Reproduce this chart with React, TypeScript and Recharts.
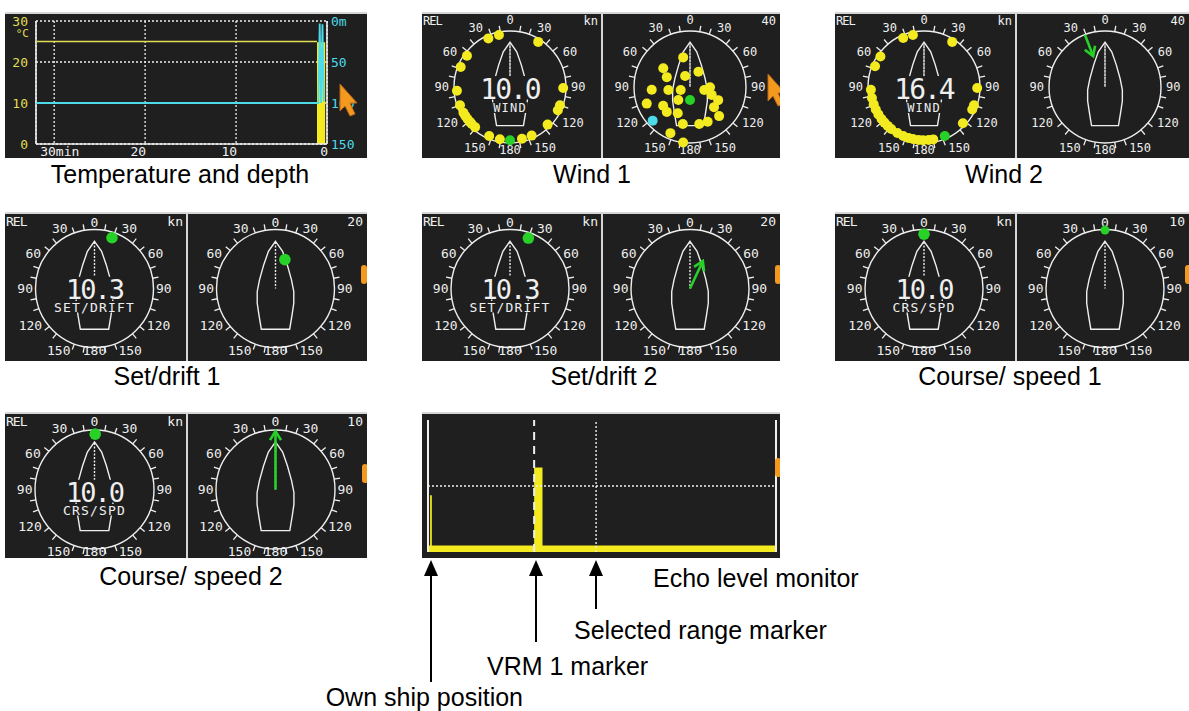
import React from "react";
import {
  Area,
  CartesianGrid,
  ComposedChart,
  Line,
  PolarAngleAxis,
  PolarRadiusAxis,
  Radar,
  RadarChart,
  ReferenceLine,
  XAxis,
  YAxis,
} from "recharts";

const BG = "#1f1f1f";
const INK = "#efefef";
const RULE = "#d6d6d6";
const YEL = "#f3ea1f";
const TEMP_YEL = "#e2dd52";
const GRN = "#27d127";
const CYA = "#4ddbe9";
const ORANGE = "#f39a1e";
const MONO = "'DejaVu Sans Mono', monospace";
const SANS = "'Liberation Sans', Arial, Helvetica, sans-serif";

// dial scale, degrees relative to the bow
const DIAL_TICKS = [0, 10, 20, 30, 40, 50, 60, 70, 80, 90, 100, 110, 120, 130, 140, 150, 160, 170, 180, 190, 200, 210, 220, 230, 240, 250, 260, 270, 280, 290, 300, 310, 320, 330, 340, 350];

// own ship outline (angle, fraction of ring radius)
const HULL_ANGLE = [0, 10.8, 26.6, 60.9, 99.2, 128.9, 148.1, 160.8, 199.2, 211.9, 231.1, 260.8, 299.1, 333.4, 349.2];
const HULL_R = [0.8, 0.641, 0.447, 0.309, 0.314, 0.398, 0.53, 0.731, 0.731, 0.53, 0.398, 0.314, 0.309, 0.447, 0.641];
const KEEL_ANGLE = [0, 0];
const KEEL_R = [0.78, 0];

// wind 1
const W1_HIST_ANGLE = [336, 348, 32, 306, 292, 266, 250, 241, 237, 233, 229, 226, 221, 203, 191, 167, 156, 135, 116, 110, 91];
const W1_HIST_R = [0.95, 0.95, 0.95, 0.95, 0.95, 0.95, 0.95, 0.95, 0.95, 0.95, 0.95, 0.95, 0.95, 0.95, 0.95, 0.95, 0.95, 0.95, 0.95, 0.95, 0.95];
const W1_NOW_ANGLE = [180];
const W1_NOW_R = [0.95];
const W1_SPD_ANGLE = [347, 305, 293, 336, 29, 266, 262, 252, 249, 235, 223, 205, 222, 102, 91, 110, 115, 130, 135, 153, 166, 191, 203, 187];
const W1_SPD_KN = [21.7, 23.3, 18, 8.6, 12.4, 27.4, 15.6, 7, 33.1, 23.4, 24.3, 20.7, 12.5, 10.4, 14.3, 16.5, 22.2, 22.4, 29.4, 27.8, 27.3, 26.9, 35.8, 40];
const W1_SPD_NOW_ANGLE = [180];
const W1_SPD_NOW_KN = [9.3];
const W1_GUST_ANGLE = [228];
const W1_GUST_KN = [35.9];

// wind 2
const W2_HIST_ANGLE = [337, 348, 32, 305, 293, 267, 258, 251, 245, 239, 233, 228, 223, 218, 210, 203, 197, 192, 186, 181, 175, 170, 133, 115, 110, 91];
const W2_HIST_R = [0.95, 0.95, 0.95, 0.95, 0.95, 0.95, 0.95, 0.95, 0.95, 0.95, 0.95, 0.95, 0.95, 0.95, 0.95, 0.95, 0.95, 0.95, 0.95, 0.95, 0.95, 0.95, 0.95, 0.95, 0.95, 0.95];
const W2_NOW_ANGLE = [157];
const W2_NOW_R = [0.95];
const W2_VEC_ANGLE = [339, 339];
const W2_VEC_KN = [40, 23.6];

// set / drift
const SD1_SET_ANGLE = [19];
const SD1_SET_R = [0.91];
const SD1_DRIFT_ANGLE = [18];
const SD1_DRIFT_KN = [10.3];
const SD2_SET_ANGLE = [20];
const SD2_SET_R = [0.91];
const SD2_VEC_ANGLE = [25, 25];
const SD2_VEC_KN = [0, 10.3];

// course / speed
const CS1_CRS_ANGLE = [0];
const CS1_CRS_R = [0.92];
const CS1_SPD_ANGLE = [0];
const CS1_SPD_KN = [9.9];
const CS2_CRS_ANGLE = [0.7];
const CS2_CRS_R = [0.93];
const CS2_VEC_ANGLE = [0, 0];
const CS2_VEC_KN = [0, 9.8];

// temperature and depth
const TEMP_TIME = [32, 1.1, 0.95, 0.8, 0.65, 0.5, 0.35, 0.2];
const TEMP_C = [25, 25, null, null, null, null, null, null];
const DEPTH_M = [100, 100, 100, 3, 100, 4, 98, null];
const TEMP_BLOCK = [null, 24.8, 24.8, 24.8, 24.8, 24.8, 24.8, 24.8];
const TIME_TICKS = [30, 20, 10, 0];
const TEMP_TICKS = [0, 10, 20, 30];
const DEPTH_TICKS = [0, 50, 100, 150];

// echo level monitor
const ECHO_RANGE = [0, 0.006, 0.011, 0.305, 0.329, 1];
const ECHO_LEVEL = [5, 43, 5, 64, 5, 5];
const VRM1 = 0.305;
const SEL_RANGE = 0.483;

const toRows = (angle: number[], v: number[]) => angle.map((a, i) => ({ a, v: v[i] }));
const HULL_ROWS = toRows(HULL_ANGLE, HULL_R);
const KEEL_ROWS = toRows(KEEL_ANGLE, KEEL_R);
const TEMP_ROWS = TEMP_TIME.map((t, i) => ({ t, temp: TEMP_C[i], depth: DEPTH_M[i], block: TEMP_BLOCK[i] }));
const ECHO_ROWS = ECHO_RANGE.map((x, i) => ({ x, lvl: ECHO_LEVEL[i] }));

type Geo = { w: number; h: number; cx: number; cy: number; r: number; fs: number; base: number; b0: number; b180: number };
type Row = {
  y: number; h: number; cy: number; r: number; fs: number; big: number; bigDy: number; subDy: number;
  lb: number; dot: number; base: number; b0: number; b180: number;
};

const ROW1: Row = { y: 12, h: 146, cy: 75, r: 56, fs: 12, big: 28, bigDy: 11.5, subDy: 25, lb: 13, dot: 5, base: 5, b0: 6.4, b180: 2.7 };
const ROW2: Row = { y: 212, h: 149, cy: 76.5, r: 59, fs: 13, big: 27, bigDy: 10, subDy: 23, lb: 14, dot: 5.8, base: 2.5, b0: 2.3, b180: -1.2 };
const ROW3: Row = { y: 412, h: 146, cy: 77.5, r: 59.5, fs: 13, big: 27, bigDy: 12, subDy: 25, lb: 14, dot: 5.8, base: 2.5, b0: 3.6, b180: -1.8 };

const COL_A = { x: 5, w: 362, cxL: 89.5, cxR: 270.5, div: 182 };
const COL_B = { x: 422, w: 358, cxL: 88, cxR: 268, div: 180 };
const COL_C = { x: 835, w: 354, cxL: 89, cxR: 270, div: 181 };

function dialTick(g: Geo) {
  return (props: any) => {
    const v = Number(props.payload?.value);
    const deg = Number(props.payload?.coordinate);
    const ux = Math.cos((deg * Math.PI) / 180);
    const uy = -Math.sin((deg * Math.PI) / 180);
    if (v % 30 !== 0) {
      return (
        <line
          x1={g.cx + ux * g.r}
          y1={g.cy + uy * g.r}
          x2={g.cx + ux * (g.r + 6)}
          y2={g.cy + uy * (g.r + 6)}
          stroke={INK}
          strokeWidth={1.3}
        />
      );
    }
    if (v >= 360) return <g />;
    const txt = String(v <= 180 ? v : 360 - v);
    const tw = txt.length * g.fs * 0.6;
    const th = g.fs * 0.72;
    const base = v === 0 ? g.b0 : v === 180 ? g.b180 : g.base;
    const d = g.r + base + 0.5 * tw * Math.abs(ux) + 0.5 * th * Math.abs(uy);
    return (
      <text
        x={g.cx + ux * d}
        y={g.cy + uy * d}
        textAnchor="middle"
        dominantBaseline="central"
        fill={INK}
        fontFamily={MONO}
        fontSize={g.fs}
      >
        {txt}
      </text>
    );
  };
}

function arrowShape(color: string) {
  return (props: any) => {
    const pts = props.points || [];
    if (pts.length < 2) return <g />;
    const a = pts[0];
    const b = pts[pts.length - 1];
    const ang = Math.atan2(b.y - a.y, b.x - a.x);
    const l = 9;
    const w = 5.5;
    const bx = b.x - l * Math.cos(ang);
    const by = b.y - l * Math.sin(ang);
    const p1 = `${bx + w * Math.sin(ang)},${by - w * Math.cos(ang)}`;
    const p2 = `${bx - w * Math.sin(ang)},${by + w * Math.cos(ang)}`;
    return (
      <g>
        <line x1={a.x} y1={a.y} x2={b.x} y2={b.y} stroke={color} strokeWidth={2.6} />
        <polyline points={`${p1} ${b.x},${b.y} ${p2}`} fill="none" stroke={color} strokeWidth={2.6} />
      </g>
    );
  };
}

function PolarLayer({ g, rows, max, axis, children }: any) {
  return (
    <div style={{ position: "absolute", left: 0, top: 0 }}>
      <RadarChart
        width={g.w}
        height={g.h}
        data={rows}
        cx={g.cx}
        cy={g.cy}
        outerRadius={g.r}
        startAngle={90}
        endAngle={-270}
        margin={{ top: 0, right: 0, bottom: 0, left: 0 }}
      >
        {axis ? (
          <PolarAngleAxis
            dataKey="a"
            type="number"
            domain={[0, 360]}
            ticks={DIAL_TICKS}
            tickCount={37}
            axisLineType="circle"
            axisLine={{ stroke: INK, strokeWidth: 1.4 }}
            tickLine={false}
            tick={dialTick(g)}
          />
        ) : (
          <PolarAngleAxis dataKey="a" type="number" domain={[0, 360]} axisLine={false} tickLine={false} tick={false} />
        )}
        <PolarRadiusAxis domain={[0, max]} axisLine={false} tick={false} tickLine={false} />
        {children}
      </RadarChart>
    </div>
  );
}

function Half({ g, row, max = 1, dots = [], vec, big, sub }: any) {
  const bigW = big ? big.length * (0.602 * row.big - 2) + 4 : 0;
  const subW = sub ? sub.length * (0.602 * row.fs + 1.2) + 2 : 0;
  return (
    <>
      <PolarLayer g={g} rows={HULL_ROWS} max={1} axis>
        <Radar dataKey="v" stroke={INK} strokeWidth={1.4} fill="none" dot={false} isAnimationActive={false} />
      </PolarLayer>
      <PolarLayer g={g} rows={KEEL_ROWS} max={1}>
        <Radar dataKey="v" stroke={INK} strokeWidth={1.4} strokeDasharray="1.5 2" fill="none" dot={false} isAnimationActive={false} />
      </PolarLayer>
      {big && (
        <svg width={g.w} height={g.h} style={{ position: "absolute", left: 0, top: 0 }}>
          <rect x={g.cx - bigW / 2} y={g.cy + row.bigDy - 0.73 * row.big - 2} width={bigW} height={0.73 * row.big + 3} fill={BG} />
          <rect x={g.cx - subW / 2} y={g.cy + row.subDy - 0.73 * row.fs - 1} width={subW} height={0.73 * row.fs + 2} fill={BG} />
          <text textAnchor="middle" fill={INK} fontFamily={MONO}>
            <tspan x={g.cx} y={g.cy + row.bigDy} fontSize={row.big} letterSpacing={-2}>
              {big}
            </tspan>
            <tspan x={g.cx} y={g.cy + row.subDy} fontSize={row.fs} letterSpacing={1.2}>
              {sub}
            </tspan>
          </text>
        </svg>
      )}
      {dots.map((d: any, i: number) => (
        <PolarLayer key={i} g={g} rows={toRows(d.angle, d.value)} max={max}>
          <Radar
            dataKey="v"
            stroke="none"
            fill="none"
            isAnimationActive={false}
            dot={(p: any) => <circle key={`d${p.index}`} cx={p.cx} cy={p.cy} r={d.size || row.dot} fill={d.color} />}
          />
        </PolarLayer>
      ))}
      {vec && (
        <PolarLayer g={g} rows={toRows(vec.angle, vec.value)} max={max}>
          <Radar dataKey="v" shape={arrowShape(GRN)} dot={false} isAnimationActive={false} />
        </PolarLayer>
      )}
    </>
  );
}

function Panel({ x, y, w, h, children }: any) {
  return (
    <div style={{ position: "absolute", left: x, top: y, width: w, height: h, background: BG, overflow: "hidden" }}>
      {children}
    </div>
  );
}

function Tab({ x, y }: { x: number; y: number }) {
  return <rect x={x} y={y} width={6} height={19} rx={3} fill={ORANGE} />;
}

function Cursor({ x, y }: { x: number; y: number }) {
  const pts = [
    [0, 0], [17, 19], [10, 19], [15, 30], [10, 32], [5, 22], [0, 27],
  ].map(([a, b]) => `${x + a},${y + b}`).join(" ");
  return <polygon points={pts} fill={ORANGE} stroke="#b8661a" strokeWidth={1} />;
}

function DialPanel({ row, col, left, right, scale, extra }: any) {
  const gL: Geo = { w: col.w, h: row.h, cx: col.cxL, cy: row.cy, r: row.r, fs: row.fs, base: row.base, b0: row.b0, b180: row.b180 };
  const gR: Geo = { ...gL, cx: col.cxR };
  return (
    <Panel x={col.x} y={row.y} w={col.w} h={row.h}>
      <Half g={gL} row={row} {...left} />
      <Half g={gR} row={row} {...right} />
      <svg width={col.w} height={row.h} style={{ position: "absolute", left: 0, top: 0 }}>
        <line x1={col.div} y1={0} x2={col.div} y2={row.h} stroke={RULE} strokeWidth={2} />
        <rect x={0} y={0} width={col.w} height={2} fill={RULE} />
        <text x={1} y={row.lb} fill={INK} fontFamily={MONO} fontSize={row.fs} letterSpacing={-1}>REL</text>
        <text x={col.div - 4} y={row.lb} textAnchor="end" fill={INK} fontFamily={MONO} fontSize={row.fs}>kn</text>
        <text x={col.w - 4} y={row.lb} textAnchor="end" fill={INK} fontFamily={MONO} fontSize={row.fs}>{scale}</text>
        {extra}
      </svg>
    </Panel>
  );
}

function timeTick(p: any) {
  const v = p.payload.value;
  const first = v === 30;
  return (
    <text x={first ? p.x - 14 : p.x + 1} y={144} textAnchor={first ? "start" : "end"} fill={INK} fontFamily={MONO} fontSize={13}>
      {first ? "30min" : String(v)}
    </text>
  );
}

function tempTick(p: any) {
  const v = p.payload.value;
  return (
    <g>
      <text x={23} y={p.y + 5} textAnchor="end" fill={TEMP_YEL} fontFamily={MONO} fontSize={13}>{v}</text>
      {v === 30 && (
        <text x={24} y={p.y + 16} textAnchor="end" fill={TEMP_YEL} fontFamily={MONO} fontSize={11}>°C</text>
      )}
    </g>
  );
}

function depthTick(p: any) {
  const v = p.payload.value;
  return (
    <text x={326} y={p.y + 5} fill={CYA} fontFamily={MONO} fontSize={13}>
      {v === 0 ? "0m" : String(v)}
    </text>
  );
}

function TempPanel() {
  return (
    <Panel x={5} y={12} w={362} h={146}>
      <div style={{ position: "absolute", left: 0, top: 0 }}>
        <ComposedChart width={362} height={146} data={TEMP_ROWS} margin={{ top: 9, right: 0, bottom: 0, left: 0 }}>
          <CartesianGrid yAxisId="t" stroke={INK} strokeDasharray="2 2" strokeWidth={1.3} />
          <XAxis dataKey="t" type="number" domain={[0, 32]} reversed ticks={TIME_TICKS} interval={0} height={14} axisLine={false} tickLine={false} tick={timeTick} />
          <YAxis yAxisId="t" type="number" domain={[0, 30]} ticks={TEMP_TICKS} interval={0} width={31} axisLine={false} tickLine={false} tick={tempTick} />
          <YAxis yAxisId="d" orientation="right" type="number" domain={[0, 150]} reversed ticks={DEPTH_TICKS} interval={0} width={40} axisLine={false} tickLine={false} tick={depthTick} />
          <ReferenceLine yAxisId="t" x={32} stroke={INK} strokeWidth={1.6} />
          <ReferenceLine yAxisId="t" x={0} stroke={INK} strokeWidth={1.6} />
          <ReferenceLine yAxisId="t" y={0} stroke={INK} strokeWidth={1.6} />
          <Area yAxisId="t" dataKey="block" stroke="none" fill={YEL} fillOpacity={1} isAnimationActive={false} />
          <Line yAxisId="t" dataKey="temp" stroke={TEMP_YEL} strokeWidth={1.6} dot={false} isAnimationActive={false} />
          <Line yAxisId="d" dataKey="depth" stroke={CYA} strokeWidth={1.8} dot={false} isAnimationActive={false} />
        </ComposedChart>
      </div>
      <svg width={362} height={146} style={{ position: "absolute", left: 0, top: 0 }}>
        <rect x={0} y={0} width={362} height={2} fill={RULE} />
        <Cursor x={335} y={72} />
      </svg>
    </Panel>
  );
}

function EchoPanel() {
  return (
    <Panel x={422} y={412} w={358} h={146}>
      <div style={{ position: "absolute", left: 0, top: 0 }}>
        <ComposedChart width={358} height={146} data={ECHO_ROWS} margin={{ top: 8, right: 4, bottom: 6, left: 6 }}>
          <XAxis dataKey="x" type="number" domain={[0, 1]} hide />
          <YAxis type="number" domain={[0, 100]} hide />
          <ReferenceLine y={50} stroke={INK} strokeDasharray="2 2" strokeWidth={1.4} />
          <ReferenceLine x={SEL_RANGE} stroke={INK} strokeDasharray="2 2" strokeWidth={1.4} />
          <ReferenceLine x={VRM1} stroke={INK} strokeDasharray="8 6" strokeWidth={2} />
          <ReferenceLine x={0} stroke={INK} strokeWidth={2} />
          <ReferenceLine x={1} stroke={INK} strokeWidth={2} />
          <Area type="stepAfter" dataKey="lvl" stroke="none" fill={YEL} fillOpacity={1} isAnimationActive={false} />
        </ComposedChart>
      </div>
      <svg width={358} height={146} style={{ position: "absolute", left: 0, top: 0 }}>
        <rect x={0} y={0} width={358} height={2} fill={RULE} />
        <Tab x={353} y={46} />
      </svg>
    </Panel>
  );
}

const CAPTIONS: [string, number, number][] = [
  ["Temperature and depth", 180, 183],
  ["Wind 1", 592, 183],
  ["Wind 2", 1004, 183],
  ["Set/drift 1", 167, 385],
  ["Set/drift 2", 604, 385],
  ["Course/ speed 1", 1010, 385],
  ["Course/ speed 2", 191, 585],
];

function UpArrow({ x, tail }: { x: number; tail: number }) {
  return (
    <g>
      <line x1={x} y1={572} x2={x} y2={tail} stroke="#000" strokeWidth={2} />
      <polygon points={`${x},560 ${x - 7},576 ${x + 7},576`} fill="#000" />
    </g>
  );
}

export default function App() {
  return (
    <div style={{ position: "absolute", left: 0, top: 0, width: 1189, height: 711, background: "#fff", overflow: "hidden" }}>
      <TempPanel />
      <DialPanel
        row={ROW1}
        col={COL_B}
        scale="40"
        left={{
          big: "10.0",
          sub: "WIND",
          dots: [
            { angle: W1_HIST_ANGLE, value: W1_HIST_R, color: YEL },
            { angle: W1_NOW_ANGLE, value: W1_NOW_R, color: GRN },
          ],
        }}
        right={{
          max: 40,
          dots: [
            { angle: W1_SPD_ANGLE, value: W1_SPD_KN, color: YEL },
            { angle: W1_SPD_NOW_ANGLE, value: W1_SPD_NOW_KN, color: GRN },
            { angle: W1_GUST_ANGLE, value: W1_GUST_KN, color: CYA },
          ],
        }}
        extra={<Cursor x={346} y={62} />}
      />
      <DialPanel
        row={ROW1}
        col={COL_C}
        scale="40"
        left={{
          big: "16.4",
          sub: "WIND",
          dots: [
            { angle: W2_HIST_ANGLE, value: W2_HIST_R, color: YEL },
            { angle: W2_NOW_ANGLE, value: W2_NOW_R, color: GRN },
          ],
        }}
        right={{ max: 40, vec: { angle: W2_VEC_ANGLE, value: W2_VEC_KN } }}
      />
      <DialPanel
        row={ROW2}
        col={COL_A}
        scale="20"
        left={{ big: "10.3", sub: "SET/DRIFT", dots: [{ angle: SD1_SET_ANGLE, value: SD1_SET_R, color: GRN }] }}
        right={{ max: 20, dots: [{ angle: SD1_DRIFT_ANGLE, value: SD1_DRIFT_KN, color: GRN }] }}
        extra={<Tab x={356} y={53} />}
      />
      <DialPanel
        row={ROW2}
        col={COL_B}
        scale="20"
        left={{ big: "10.3", sub: "SET/DRIFT", dots: [{ angle: SD2_SET_ANGLE, value: SD2_SET_R, color: GRN }] }}
        right={{ max: 20, vec: { angle: SD2_VEC_ANGLE, value: SD2_VEC_KN } }}
        extra={<Tab x={353} y={53} />}
      />
      <DialPanel
        row={ROW2}
        col={COL_C}
        scale="10"
        left={{ big: "10.0", sub: "CRS/SPD", dots: [{ angle: CS1_CRS_ANGLE, value: CS1_CRS_R, color: GRN }] }}
        right={{ max: 10, dots: [{ angle: CS1_SPD_ANGLE, value: CS1_SPD_KN, color: GRN, size: 4.5 }] }}
        extra={<Tab x={350} y={53} />}
      />
      <DialPanel
        row={ROW3}
        col={COL_A}
        scale="10"
        left={{ big: "10.0", sub: "CRS/SPD", dots: [{ angle: CS2_CRS_ANGLE, value: CS2_CRS_R, color: GRN }] }}
        right={{ max: 10, vec: { angle: CS2_VEC_ANGLE, value: CS2_VEC_KN } }}
        extra={<Tab x={357} y={52} />}
      />
      <EchoPanel />
      <svg width={1189} height={711} style={{ position: "absolute", left: 0, top: 0, pointerEvents: "none" }}>
        {CAPTIONS.map(([t, x, y]) => (
          <text key={t} x={x} y={y} textAnchor="middle" fontFamily={SANS} fontSize={25} fill="#000">
            {t}
          </text>
        ))}
        <UpArrow x={431} tail={682} />
        <UpArrow x={536} tail={642} />
        <UpArrow x={596} tail={609} />
        <text x={653} y={587} fontFamily={SANS} fontSize={25} fill="#000">Echo level monitor</text>
        <text x={574} y={639} fontFamily={SANS} fontSize={25} fill="#000">Selected range marker</text>
        <text x={487} y={675} fontFamily={SANS} fontSize={25} fill="#000">VRM 1 marker</text>
        <text x={523} y={706} textAnchor="end" fontFamily={SANS} fontSize={25} fill="#000">Own ship position</text>
      </svg>
    </div>
  );
}
